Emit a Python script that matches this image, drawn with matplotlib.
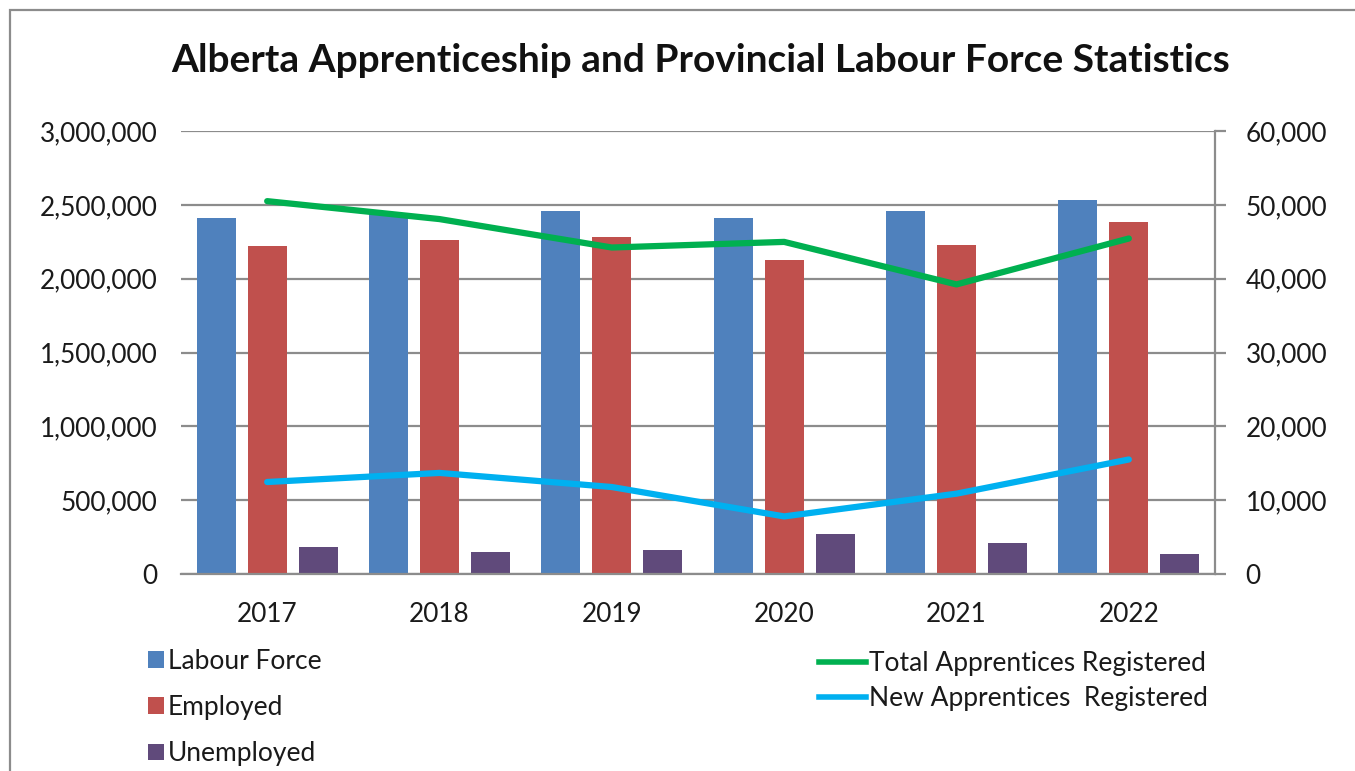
import matplotlib.pyplot as plt
from matplotlib.patches import Rectangle, Patch
from matplotlib.lines import Line2D
from matplotlib.ticker import FuncFormatter
import numpy as np

plt.rcParams['font.family'] = ['Lato', 'DejaVu Sans']

# data
years = ['2017', '2018', '2019', '2020', '2021', '2022']
labour_force = [2412000, 2445000, 2458000, 2412000, 2458000, 2533000]
employed = [2218000, 2263000, 2279000, 2129000, 2231000, 2381000]
unemployed = [181000, 152000, 165000, 272000, 211000, 136000]
total_apprentices = [50500, 48070, 44220, 44980, 39220, 45440]
new_apprentices = [12460, 13690, 11780, 7800, 10880, 15510]

bar_colors = ['#4F81BD', '#C0504D', '#604A7B']  # 柱子颜色
green = '#00B050'
blue = '#00B0F0'
grid_grey = '#8C8C8C'

W, H = 1355, 771
fig = plt.figure(figsize=(W / 100, H / 100), dpi=100)
ax = fig.add_axes([181 / W, 1 - 574 / H, (1215 - 181) / W, (574 - 131) / H])

x = np.arange(len(years))
step = 0.296
width = 0.226
for i, (vals, c) in enumerate(zip([labour_force, employed, unemployed], bar_colors)):
    ax.bar(x + (i - 1) * step, vals, width=width, color=c, zorder=2)

ax.set_xlim(-0.5, len(years) - 0.5)
ax.set_ylim(0, 3000000)
ax.set_yticks(np.arange(0, 3000001, 500000))
ax.yaxis.set_major_formatter(FuncFormatter(lambda v, p: f'{int(v):,}'))
ax.set_xticks(x)
ax.set_xticklabels(years)
ax.grid(axis='y', color=grid_grey, linewidth=1.6, zorder=0)
ax.set_axisbelow(True)
ax.tick_params(axis='y', length=0, pad=17, labelsize=18.8, colors='#1a1a1a')
ax.tick_params(axis='x', length=0, pad=20, labelsize=18.8, colors='#1a1a1a')
for s in ['top', 'right', 'left']:
    ax.spines[s].set_visible(False)
ax.spines['bottom'].set_color(grid_grey)
ax.spines['bottom'].set_linewidth(1.6)

# 右侧坐标轴 (学徒人数)
ax2 = ax.twinx()
ax2.plot(x, total_apprentices, color=green, linewidth=4.5, solid_capstyle='round', zorder=3)
ax2.plot(x, new_apprentices, color=blue, linewidth=4.5, solid_capstyle='round', zorder=3)
ax2.set_ylim(0, 60000)
ax2.set_yticks(np.arange(0, 60001, 10000))
ax2.yaxis.set_major_formatter(FuncFormatter(lambda v, p: f'{int(v):,}'))
ax2.tick_params(axis='y', direction='out', length=8, width=1.6, color=grid_grey,
                pad=14, labelsize=18.8, labelcolor='#1a1a1a')
for s in ['top', 'left', 'bottom']:
    ax2.spines[s].set_visible(False)
ax2.spines['right'].set_color(grid_grey)
ax2.spines['right'].set_linewidth(1.6)

fig.text(701 / W, 1 - 61 / H, 'Alberta Apprenticeship and Provincial Labour Force Statistics',
         ha='center', va='center', fontsize=28, fontweight='bold', color='#111111')

# 图例
left_handles = [Patch(facecolor=c) for c in bar_colors]
leg1 = fig.legend(left_handles, ['Labour Force', 'Employed', 'Unemployed'],
                  loc='upper left', bbox_to_anchor=(148 / W, 1 - 649 / H),
                  frameon=False, fontsize=19, handlelength=0.6, handleheight=0.6,
                  handletextpad=0.15, labelspacing=0.8, borderaxespad=0, borderpad=0)
right_handles = [Line2D([], [], color=green, linewidth=4), Line2D([], [], color=blue, linewidth=4)]
leg2 = fig.legend(right_handles, ['Total Apprentices Registered', 'New Apprentices  Registered'],
                  loc='upper left', bbox_to_anchor=(819 / W, 1 - 651 / H),
                  frameon=False, fontsize=19, handlelength=1.78,
                  handletextpad=0.1, labelspacing=0.38, borderaxespad=0, borderpad=0)
for leg in (leg1, leg2):
    for t in leg.get_texts():
        t.set_color('#1a1a1a')

# 外框
fig.patches.append(Rectangle((10 / W, -0.1), 1.2, 1 - 10 / H + 0.1, transform=fig.transFigure,
                             fill=False, edgecolor=grid_grey, linewidth=1.6))

fig.savefig('out.png', dpi=100)
